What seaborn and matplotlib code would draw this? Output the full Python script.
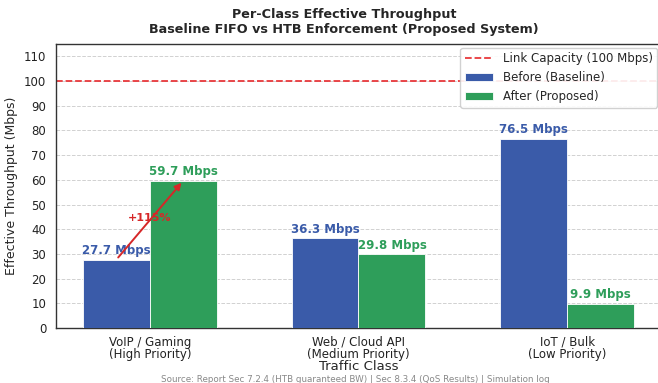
import matplotlib
matplotlib.use("Agg")
import matplotlib.pyplot as plt
import seaborn as sns
import pandas as pd

categories = ["VoIP / Gaming\n(High Priority)", "Web / Cloud API\n(Medium Priority)", "IoT / Bulk\n(Low Priority)"]
before = [27.7, 36.3, 76.5]
after = [59.7, 29.8, 9.9]
series = ["Before (Baseline)", "After (Proposed)"]
link_capacity = 100
gain_label = "+115%"

df = pd.DataFrame({
    "Traffic Class": categories * 2,
    "Throughput": before + after,
    "Phase": [series[0]] * 3 + [series[1]] * 3,
})

sns.set_style("white")
plt.rcParams["font.family"] = ["DejaVu Sans"]

BLUE = "#3a5ba9"
GREEN = "#2e9e5a"
RED = "#d62728"

fig = plt.figure(figsize=(6.58, 3.83), dpi=100)
ax = fig.add_axes([56/658, 55/383, 605/658, 284/383])

ax.axhline(link_capacity, color="#e8383b", ls="--", lw=1.3, label="Link Capacity (100 Mbps)", zorder=1)
sns.barplot(data=df, x="Traffic Class", y="Throughput", hue="Phase",
            palette=[BLUE, GREEN], saturation=1, width=0.642, gap=0, ax=ax,
            edgecolor="white", linewidth=0.6, zorder=3)

ax.set_xlim(-0.45, 2.45)
ax.set_ylim(0, 115)
ax.set_yticks(range(0, 111, 10))
ax.yaxis.grid(True, ls="--", color="#cccccc", lw=0.7, alpha=0.9)
ax.set_axisbelow(True)
for s in ax.spines.values():
    s.set_color("#333333")
    s.set_linewidth(1.0)
ax.tick_params(axis="both", direction="out", length=3.5, width=0.8, colors="#333333", labelsize=8.5, labelcolor="#222222")
ax.tick_params(axis="x", pad=2)
for t in ax.get_xticklabels():
    t.set_linespacing(0.92)

ax.set_xlabel("Traffic Class", fontsize=9.5)
ax.xaxis.set_label_coords(0.5, -(367 - 328) / 284)
ax.xaxis.label.set_va("center")
ax.set_ylabel("Effective Throughput (Mbps)", fontsize=9)
ax.yaxis.set_label_coords(-(56 - 18) / 605, 0.5)

for cont, col in zip(ax.containers, [BLUE, GREEN]):
    ax.bar_label(cont, labels=[f"{v:.1f} Mbps" for v in cont.datavalues],
                 color=col, fontweight="bold", fontsize=8.5, padding=2)

# improvement arrow for first class
b0 = ax.containers[0].patches[0]
a0 = ax.containers[1].patches[0]
x0 = b0.get_x() + b0.get_width() / 2
x1 = a0.get_x() + a0.get_width() / 2
ax.annotate("", xy=(x1, after[0]), xytext=(x0, before[0]),
            arrowprops=dict(arrowstyle="-|>", color=RED, lw=1.4, mutation_scale=10), zorder=5)
ax.text((x0 + x1) / 2, (before[0] + after[0]) / 2 + 1, gain_label, color=RED,
        fontweight="bold", fontsize=8, ha="center", va="center", zorder=6)

ax.legend(loc="upper right", fontsize=8.5, frameon=True, framealpha=0.9, edgecolor="#cccccc",
          borderpad=0.4, handlelength=2.4, borderaxespad=0.3)

fig.text(344/658, 1 - 22/383, "Per-Class Effective Throughput\nBaseline FIFO vs HTB Enforcement (Proposed System)",
         ha="center", va="center", fontsize=9.2, fontweight="bold", linespacing=1.15)
fig.text(355/658, 1 - 379/383, "Source: Report Sec 7.2.4 (HTB guaranteed BW) | Sec 8.3.4 (QoS Results) | Simulation log",
         ha="center", va="center", fontsize=6.3, color="#888888")

fig.savefig("out.png", dpi=100)
